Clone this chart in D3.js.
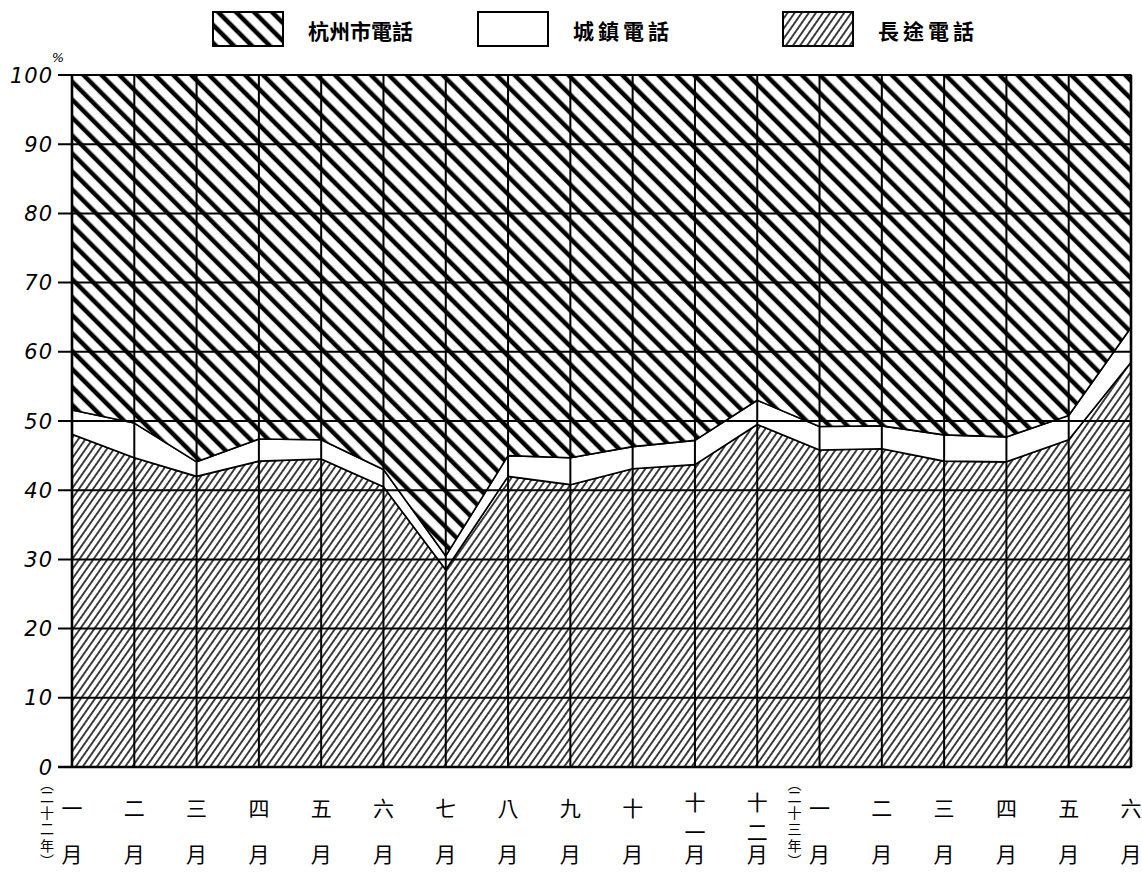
<!DOCTYPE html>
<html>
<head>
<meta charset="utf-8">
<script src="https://cdn.jsdelivr.net/npm/d3@7"></script>
<style>
body { margin: 0; background: #fff; }
</style>
</head>
<body>
<div id="chart"></div>
<script>
// 月份 (民國二十二年一月 ~ 二十三年六月)
var months = ["一", "二", "三", "四", "五", "六", "七", "八", "九", "十", "十一", "十二",
	"一", "二", "三", "四", "五", "六"];
var yearNotes = [{idx: 0, text: "二十二年"}, {idx: 12, text: "二十三年"}];

// 百分比 (%)
var longDist = [48.1, 44.7, 42.0, 44.2, 44.5, 40.5, 28.5, 42.0, 40.8, 43.1, 43.7, 49.5, 45.8, 46.0, 44.2, 44.1, 47.3, 58.5];
var town     = [3.5, 5.0, 2.1, 3.2, 2.8, 2.5, 2.0, 3.0, 3.9, 3.2, 3.5, 3.5, 3.4, 3.3, 3.8, 3.6, 3.5, 5.0];
var city     = [48.4, 50.3, 55.9, 52.6, 52.7, 57.0, 69.5, 55.0, 55.3, 53.7, 52.8, 47.0, 50.8, 50.7, 52.0, 52.3, 49.2, 36.5];

var yTicks = [0, 10, 20, 30, 40, 50, 60, 70, 80, 90, 100];
var yTickLabels = ["0", "10", "20", "30", "40", "50", "60", "70", "80", "90", "100"];

var legendItems = [
	{key: "city", label: "杭州市電話"},
	{key: "town", label: "城鎮電話"},
	{key: "longDist", label: "長途電話"}
];

(function () {
	var width = 1142, height = 874,
		mLeft = 72, mRight = 1131, mTop = 75, mBottom = 767;

	var rows = months.map(function (m, i) {
		return {idx: i, longDist: longDist[i], town: town[i], city: city[i]};
	});

	var x = d3.scaleLinear().domain([0, months.length - 1]).range([mLeft, mRight]);
	var y = d3.scaleLinear().domain([0, 100]).range([mBottom, mTop]);

	var stack = d3.stack()
		.keys(["longDist", "town", "city"])
		.offset(d3.stackOffsetExpand);
	var series = stack(rows);

	var svg = d3.select("#chart").append("svg")
		.attr("width", width)
		.attr("height", height)
		.attr("viewBox", [0, 0, width, height]);

	var defs = svg.append("defs");

	// 粗斜線 (杭州市電話)
	var pCity = defs.append("pattern")
		.attr("id", "hatch-city")
		.attr("patternUnits", "userSpaceOnUse")
		.attr("width", 12.7)
		.attr("height", 12.7)
		.attr("patternTransform", "rotate(-45)");
	pCity.append("rect").attr("width", 12.7).attr("height", 12.7).attr("fill", "#fff");
	pCity.append("line")
		.attr("x1", 6).attr("x2", 6).attr("y1", 0).attr("y2", 12.7)
		.attr("stroke", "#000").attr("stroke-width", 4.5);

	// 細斜線 (長途電話)
	var pLong = defs.append("pattern")
		.attr("id", "hatch-long")
		.attr("patternUnits", "userSpaceOnUse")
		.attr("width", 5.8)
		.attr("height", 5.8)
		.attr("patternTransform", "rotate(35)");
	pLong.append("rect").attr("width", 5.8).attr("height", 5.8).attr("fill", "#fff");
	pLong.append("line")
		.attr("x1", 2.9).attr("x2", 2.9).attr("y1", 0).attr("y2", 5.8)
		.attr("stroke", "#000").attr("stroke-width", 1.5);

	var fills = {city: "url(#hatch-city)", town: "#fff", longDist: "url(#hatch-long)"};

	var area = d3.area()
		.x(function (d) { return x(d.data.idx); })
		.y0(function (d) { return y(d[0] * 100); })
		.y1(function (d) { return y(d[1] * 100); });

	svg.append("g")
		.selectAll("path")
		.data(series)
		.join("path")
		.attr("d", area)
		.attr("fill", function (d) { return fills[d.key]; })
		.attr("stroke", "#000")
		.attr("stroke-width", 1.6)
		.attr("stroke-linejoin", "round");

	// 格線
	var grid = svg.append("g").attr("stroke", "#000");
	grid.selectAll("line.h")
		.data(yTicks)
		.join("line")
		.attr("class", "h")
		.attr("x1", mLeft - 14)
		.attr("x2", mRight)
		.attr("y1", function (d) { return y(d); })
		.attr("y2", function (d) { return y(d); })
		.attr("stroke-width", function (d) { return d === 0 ? 2.6 : 2; });
	grid.selectAll("line.v")
		.data(months.map(function (m, i) { return i; }))
		.join("line")
		.attr("class", "v")
		.attr("x1", function (d) { return x(d); })
		.attr("x2", function (d) { return x(d); })
		.attr("y1", mTop)
		.attr("y2", mBottom)
		.attr("stroke-width", function (d, i) { return (i === 0 || i === months.length - 1) ? 2.6 : 2; });

	// y 軸標籤
	svg.append("g")
		.attr("font-family", "'DejaVu Sans', 'Liberation Sans', sans-serif")
		.attr("font-style", "italic")
		.attr("font-weight", 300)
		.attr("font-size", 21)
		.attr("letter-spacing", 1)
		.attr("text-anchor", "end")
		.selectAll("text")
		.data(yTicks)
		.join("text")
		.attr("x", 53)
		.attr("y", function (d) { return y(d); })
		.attr("dy", "0.36em")
		.text(function (d, i) { return yTickLabels[i]; });

	svg.append("text")
		.attr("x", 58)
		.attr("y", 62)
		.attr("font-family", "'DejaVu Sans', sans-serif")
		.attr("font-style", "italic")
		.attr("font-size", 13)
		.attr("text-anchor", "middle")
		.text("%");

	// x 軸標籤 (直書)
	var cjk = "'Noto Sans CJK TC', 'Noto Sans CJK JP', sans-serif";
	var xl = svg.append("g")
		.attr("font-family", cjk)
		.attr("font-size", 21)
		.attr("text-anchor", "middle")
		.attr("dominant-baseline", "central");

	months.forEach(function (m, i) {
		var chars = m.split("");
		var ys = chars.length === 1 ? [807] : [801, 831];
		chars.forEach(function (c, k) {
			xl.append("text")
				.attr("x", x(i))
				.attr("y", ys[k])
				.text(c);
		});
		xl.append("text")
			.attr("x", x(i))
			.attr("y", 853)
			.text("月");
	});

	yearNotes.forEach(function (n) {
		var chars = ["︵"].concat(n.text.split(""), ["︶"]);
		var ys = [783, 796, 812, 828, 845, 860];
		chars.forEach(function (c, k) {
			xl.append("text")
				.attr("x", x(n.idx) - 25)
				.attr("y", ys[k])
				.attr("font-size", 14)
				.text(c);
		});
	});

	// 圖例
	var legendX = [213, 478, 783];
	var lg = svg.append("g");
	legendItems.forEach(function (it, i) {
		lg.append("rect")
			.attr("x", legendX[i])
			.attr("y", 12)
			.attr("width", 70)
			.attr("height", 34)
			.attr("fill", fills[it.key])
			.attr("stroke", "#000")
			.attr("stroke-width", 2);
		lg.append("text")
			.attr("x", legendX[i] + 95)
			.attr("y", 30)
			.attr("font-family", cjk)
			.attr("font-weight", 700)
			.attr("font-size", 21)
			.attr("letter-spacing", i === 0 ? 0 : 4)
			.attr("dominant-baseline", "central")
			.text(it.label);
	});
})();
</script>
</body>
</html>
